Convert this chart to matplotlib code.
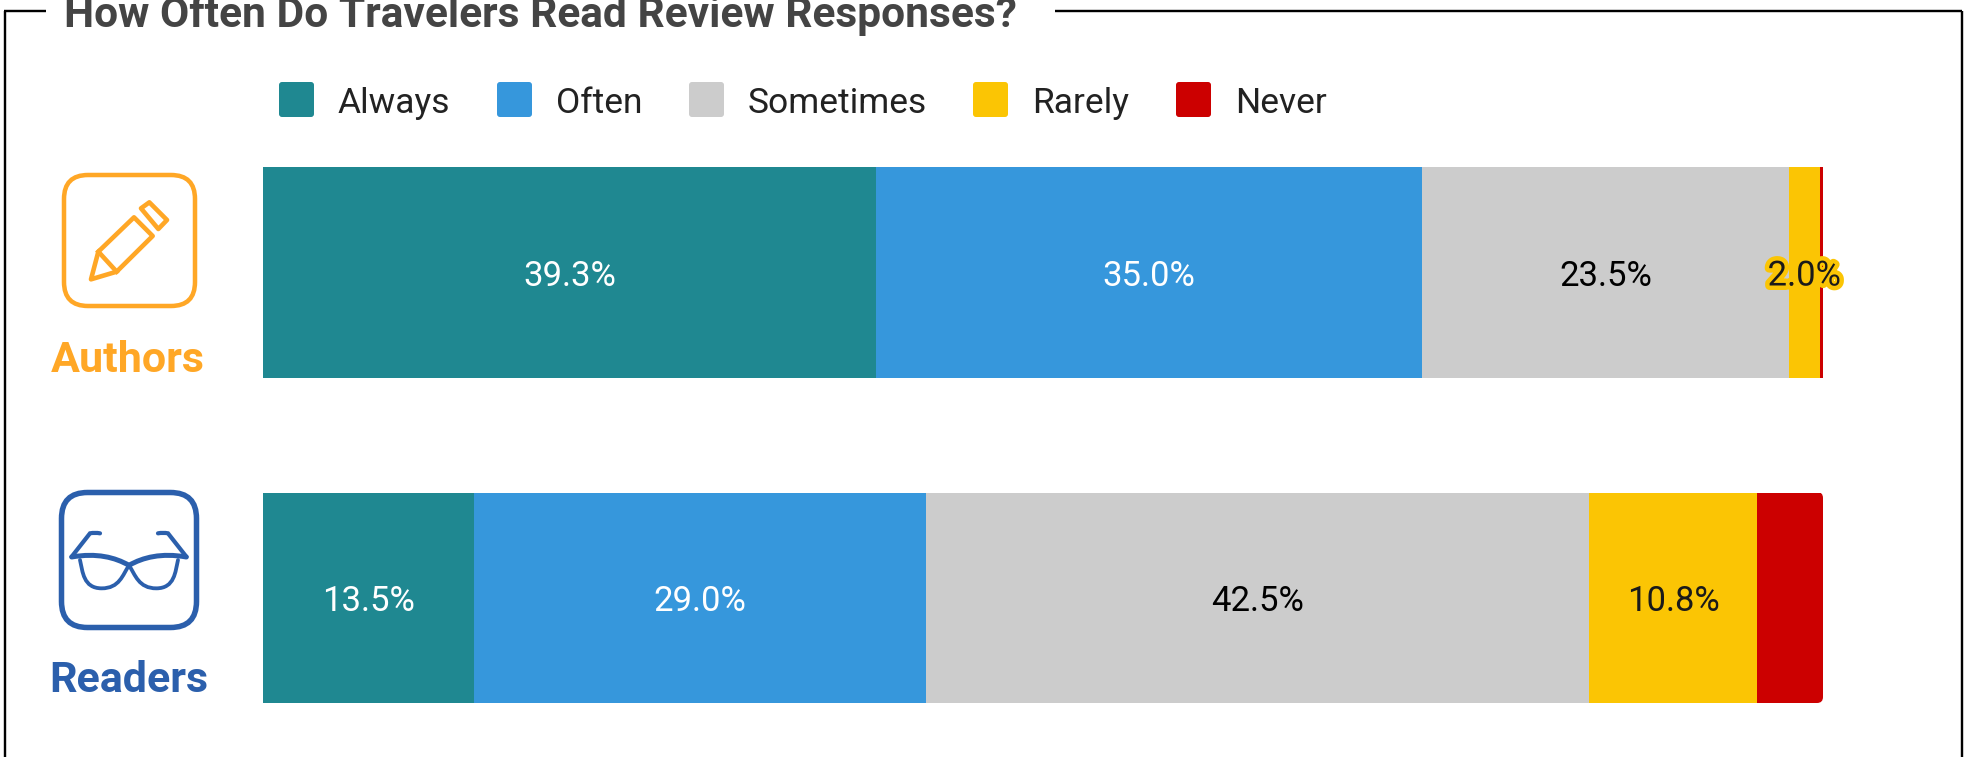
"""Stacked bars: how often travelers read review responses, authors vs readers."""

import matplotlib
matplotlib.use("Agg")
import matplotlib.pyplot as plt
import matplotlib.patheffects as pe
from matplotlib.patches import FancyBboxPatch, PathPatch, Polygon
from matplotlib.path import Path

plt.rcParams["font.family"] = ["Roboto", "DejaVu Sans"]

W, H = 1973, 757
PX = 72 / 100  # one pixel in points at dpi=100

# --- data ---------------------------------------------------------------
groups = ["Authors", "Readers"]
answers = ["Always", "Often", "Sometimes", "Rarely", "Never"]
authors_pct = [39.3, 35.0, 23.5, 2.0, 0.2]
readers_pct = [13.5, 29.0, 42.5, 10.8, 4.2]

answer_colors = ["#1F8891", "#3697DC", "#CCCCCC", "#FBC504", "#CC0000"]
label_colors = ["white", "white", "black", "#1a1a1a", None]  # Never has no label

ORANGE = "#FFA726"
NAVY = "#2B5FAC"

fig = plt.figure(figsize=(W / 100, H / 100), dpi=100, facecolor="white")

# overlay in pixel coordinates for the frame, legend and icons
bg = fig.add_axes([0, 0, 1, 1])
bg.set_xlim(0, W)
bg.set_ylim(H, 0)
bg.axis("off")

# --- frame with a gap for the heading -----------------------------------
frame_kw = dict(color="black", lw=2.4 * PX, solid_capstyle="butt")
bg.plot([5, 5], [H, 10.5], **frame_kw)
bg.plot([4, 46], [10.5, 10.5], **frame_kw)
bg.plot([1055, 1962], [10.5, 10.5], **frame_kw)
bg.plot([1961.5, 1961.5], [10.5, H], **frame_kw)
bg.text(64.5, 27, "How Often Do Travelers Read Review Responses?", fontsize=30.65,
        fontweight="bold", color="#444444", va="baseline", ha="left")

# --- legend -------------------------------------------------------------
swatch_x = [279, 497, 689, 973, 1176]
text_x = [338, 556, 748, 1032, 1235]
for name, color, sx, tx in zip(answers, answer_colors, swatch_x, text_x):
    bg.add_patch(FancyBboxPatch((sx + 2, 84), 31, 31, boxstyle="round,pad=2,rounding_size=3",
                                fc=color, ec="none"))
    bg.text(tx, 100, name, fontsize=25.5, color="#222222", va="center_baseline", ha="left")

# --- bars ---------------------------------------------------------------
BAR_L, BAR_R = 263, 1823
ax = fig.add_axes([BAR_L / W, 0, (BAR_R - BAR_L) / W, 1])
ax.set_xlim(0, 100)
ax.set_ylim((H - 272.5) / 325.5, -272.5 / 325.5)
ax.patch.set_alpha(0)
ax.axis("off")

for row, values in enumerate([authors_pct, readers_pct]):
    left = 0
    for i, v in enumerate(values):
        bars = ax.barh(row, v, left=left, height=0.648, color=answer_colors[i], lw=0)
        # the last segment of the lower bar has rounded outer corners
        if row == 1 and i == len(values) - 1:
            clip = FancyBboxPatch((1600, 497), 218, 201, boxstyle="round,pad=5,rounding_size=6",
                                  transform=bg.transData, fc="none", ec="none")
            bars[0].set_clip_path(clip)
        if label_colors[i] is not None:
            txt = ax.text(left + v / 2, row + 0.0, f"{v:.1f}%", color=label_colors[i],
                          fontsize=24.9, ha="center", va="center_baseline")
            if v < 3:
                txt.set_path_effects([pe.withStroke(linewidth=9 * PX, foreground=answer_colors[i])])
                txt.set_zorder(5)
        left += v

# --- group icons --------------------------------------------------------
def pts(coords, x0, y0):
    """Crop-style coordinates (3x, from an origin) to figure pixels."""
    return [(x0 + x / 3, y0 + y / 3) for x, y in coords]

# pencil
bg.add_patch(FancyBboxPatch((76, 187), 107, 107, boxstyle="round,pad=12,rounding_size=24",
                            fc="none", ec=ORANGE, lw=4.5 * PX))
pencil_kw = dict(closed=True, fc="none", ec=ORANGE, lw=4.6 * PX, joinstyle="round")
bg.add_patch(Polygon(pts([(183, 358), (205, 275), (312, 172), (368, 228), (260, 335)], 30, 160), **pencil_kw))
bg.add_patch(Polygon(pts([(333, 145), (358, 127), (411, 180), (385, 207)], 30, 160), **pencil_kw))
(x1, y1), (x2, y2) = pts([(205, 275), (260, 335)], 30, 160)
bg.plot([x1, x2], [y1, y2], color=ORANGE, lw=4.6 * PX)
bg.text(128, 372, groups[0], fontsize=31, fontweight="bold", color=ORANGE, ha="center", va="baseline")

# glasses
bg.add_patch(FancyBboxPatch((74, 505), 110, 110, boxstyle="round,pad=12.5,rounding_size=26",
                            fc="none", ec=NAVY, lw=5.5 * PX))
MID = 297

def mirrored(raw, mirror):
    return [(2 * MID - x, y) for x, y in raw] if mirror else raw

def brow(mirror):
    raw = [(125, 231), (200, 218), (255, 232), (MID, 256)]
    return Path(pts(mirrored(raw, mirror), 30, 480), [Path.MOVETO] + [Path.CURVE4] * 3)

def lens(mirror):
    raw = [(150, 240), (158, 275), (160, 325), (215, 325),
           (268, 325), (278, 285), (MID, 256)]
    return Path(pts(mirrored(raw, mirror), 30, 480), [Path.MOVETO] + [Path.CURVE4] * 6)

def temple(mirror):
    raw = [(210, 160), (195, 157), (180, 160), (125, 230)]
    return Path(pts(mirrored(raw, mirror), 30, 480),
                [Path.MOVETO, Path.CURVE3, Path.CURVE3, Path.LINETO])

for m in (False, True):
    bg.add_patch(PathPatch(brow(m), fc="none", ec=NAVY, lw=5 * PX, capstyle="round"))
    bg.add_patch(PathPatch(lens(m), fc="none", ec=NAVY, lw=3.8 * PX, capstyle="round"))
    bg.add_patch(PathPatch(temple(m), fc="none", ec=NAVY, lw=4.2 * PX, capstyle="round"))
bg.text(129, 692, groups[1], fontsize=31, fontweight="bold", color=NAVY, ha="center", va="baseline")

fig.savefig("out.png", dpi=100, facecolor="white")
